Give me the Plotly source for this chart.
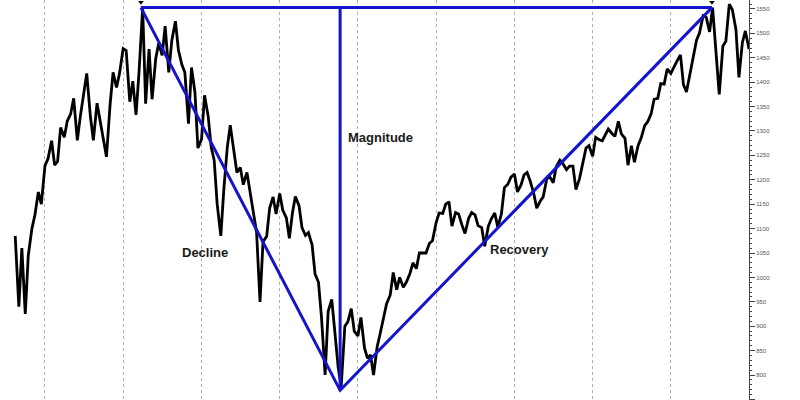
import pandas as pd
import plotly.graph_objects as go

# Semi-monthly index values (S&P 500)
dates = pd.date_range("1998-08-15", "2008-01-01", freq="SMS")

v1998 = [1085, 940, 1060, 925, 1045, 1100, 1128, 1175, 1150]
v1999 = [1229, 1243, 1280, 1230, 1238, 1307, 1287, 1320, 1335, 1367, 1281, 1330,
         1380, 1418, 1330, 1281, 1357, 1318, 1282, 1247, 1354, 1420, 1389, 1418]
v2000 = [1469, 1465, 1360, 1402, 1333, 1420, 1552, 1356, 1468, 1365, 1448, 1480,
         1455, 1515, 1420, 1485, 1525, 1466, 1436, 1420, 1315, 1430, 1380, 1265]
v2001 = [1283, 1373, 1330, 1267, 1240, 1150, 1085, 1180, 1266, 1312, 1256, 1215,
         1225, 1190, 1215, 1178, 1134, 1092, 950, 1073, 1084, 1142, 1165, 1130]
v2002 = [1172, 1138, 1122, 1080, 1131, 1166, 1147, 1102, 1086, 1092, 1067, 1007,
         990, 918, 800, 930, 955, 889, 815, 776, 900, 909, 936, 890]
v2003 = [880, 918, 855, 834, 841, 800, 858, 885, 916, 946, 964, 1010,
         975, 1000, 980, 990, 1008, 1030, 1018, 1050, 1050, 1050, 1070, 1075]
v2004 = [1112, 1132, 1131, 1150, 1155, 1105, 1133, 1130, 1107, 1090, 1121, 1133,
         1128, 1106, 1102, 1064, 1105, 1120, 1132, 1103, 1130, 1184, 1191, 1205]
v2005 = [1212, 1175, 1190, 1210, 1215, 1198, 1172, 1142, 1156, 1165, 1202, 1206,
         1194, 1227, 1240, 1233, 1221, 1228, 1228, 1180, 1203, 1229, 1265, 1270]
v2006 = [1248, 1287, 1282, 1280, 1292, 1304, 1295, 1289, 1320, 1294, 1285, 1230,
         1270, 1236, 1270, 1285, 1311, 1319, 1335, 1365, 1367, 1397, 1396, 1427]
v2007 = [1418, 1431, 1445, 1456, 1395, 1380, 1421, 1453, 1486, 1501, 1536, 1533,
         1503, 1553, 1465, 1375, 1474, 1484, 1560, 1549, 1508, 1410, 1481, 1505]
v2008 = [1468]

values = v1998 + v1999 + v2000 + v2001 + v2002 + v2003 + v2004 + v2005 + v2006 + v2007 + v2008
n = min(len(dates), len(values))
dates = dates[:n]
values = values[:n]

# Key points of the cycle
peak_date, peak_value = "2000-03-24", 1552.87
trough_date, trough_value = "2002-10-10", 768.63
recovery_date, recovery_value = "2007-07-12", 1552.87

y_ticks = list(range(750, 1551, 50))

BLUE = "#1414CC"

fig = go.Figure()

fig.add_trace(go.Scatter(x=dates, y=values, mode="lines",
                         line=dict(color="black", width=2.8), hoverinfo="skip",
                         showlegend=False))

# Horizontal magnitude top line
fig.add_trace(go.Scatter(x=[peak_date, recovery_date], y=[peak_value, recovery_value],
                         mode="lines", line=dict(color=BLUE, width=3), showlegend=False))
# Decline + recovery legs
fig.add_trace(go.Scatter(x=[peak_date, trough_date, recovery_date],
                         y=[peak_value, trough_value, recovery_value],
                         mode="lines", line=dict(color=BLUE, width=3), showlegend=False))
# Vertical magnitude line
fig.add_trace(go.Scatter(x=[trough_date, trough_date], y=[trough_value, peak_value],
                         mode="lines", line=dict(color=BLUE, width=3), showlegend=False))
# Small markers above peaks
fig.add_trace(go.Scatter(x=[peak_date, recovery_date], y=[1564, 1564], mode="markers",
                         marker=dict(symbol="triangle-down", size=5, color="black"),
                         showlegend=False))

lab_font = dict(family="Liberation Sans, Arial", size=13, color="#1a1a1a")
fig.add_annotation(x="2001-01-17", y=1052, text="<b>Decline</b>", showarrow=False,
                   font=lab_font, xanchor="center", yanchor="middle")
fig.add_annotation(x="2002-11-05", y=1286, text="<b>Magnitude</b>", showarrow=False,
                   font=lab_font, xanchor="left", yanchor="middle")
fig.add_annotation(x="2005-01-26", y=1058, text="<b>Recovery</b>", showarrow=False,
                   font=lab_font, xanchor="center", yanchor="middle")

fig.update_layout(
    width=800, height=400,
    margin=dict(l=0, r=51, t=0, b=0),
    paper_bgcolor="white", plot_bgcolor="white",
    showlegend=False,
    hovermode=False,
    xaxis=dict(type="date", range=["1998-06-05", "2008-01-01"],
               showgrid=True, gridcolor="#b0b0b0", griddash="dot", gridwidth=1,
               tick0="1999-01-01", dtick="M12", showticklabels=False,
               ticks="", showline=False, zeroline=False),
    yaxis=dict(side="right", range=[748.8, 1568.4], tickvals=y_ticks,
               ticktext=[str(t) for t in y_ticks],
               showgrid=False, zeroline=False, showline=True, linecolor="#444",
               linewidth=1, ticks="outside", ticklen=5, tickcolor="#444",
               minor=dict(ticks="outside", ticklen=2, dtick=10, tick0=750,
                          tickcolor="#444", showgrid=False),
               tickfont=dict(family="Liberation Sans, Arial", size=6, color="#555")),
)

fig.write_html("out.html", config={"displayModeBar": False},
               post_script="document.body.style.margin='0';document.body.style.overflow='hidden';")
